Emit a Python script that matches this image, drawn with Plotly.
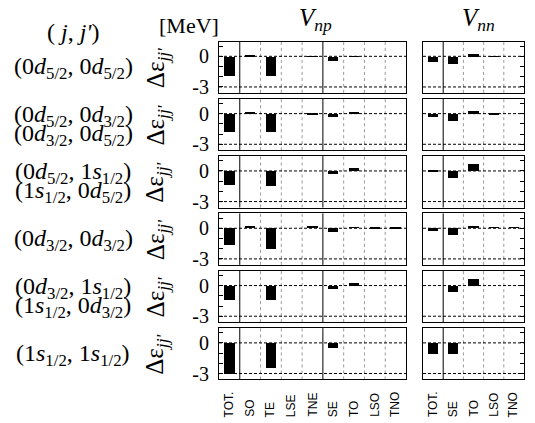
import plotly.graph_objects as go

W, H = 535, 423

cats_np = ["TOT.", "SO", "TE", "LSE", "TNE", "SE", "TO", "LSO", "TNO"]
cats_nn = ["TOT.", "SE", "TO", "LSO", "TNO"]

row_labels = [
    ["(0<i>d</i><sub>5/2</sub>, 0<i>d</i><sub>5/2</sub>)"],
    ["(0<i>d</i><sub>5/2</sub>, 0<i>d</i><sub>3/2</sub>)", "(0<i>d</i><sub>3/2</sub>, 0<i>d</i><sub>5/2</sub>)"],
    ["(0<i>d</i><sub>5/2</sub>, 1<i>s</i><sub>1/2</sub>)", "(1<i>s</i><sub>1/2</sub>, 0<i>d</i><sub>5/2</sub>)"],
    ["(0<i>d</i><sub>3/2</sub>, 0<i>d</i><sub>3/2</sub>)"],
    ["(0<i>d</i><sub>3/2</sub>, 1<i>s</i><sub>1/2</sub>)", "(1<i>s</i><sub>1/2</sub>, 0<i>d</i><sub>3/2</sub>)"],
    ["(1<i>s</i><sub>1/2</sub>, 1<i>s</i><sub>1/2</sub>)"],
]

vnp_1 = [-1.9, 0.1, -1.9, 0.0, 0.03, -0.4, 0.08, 0.0, 0.0]
vnp_2 = [-1.8, 0.1, -1.75, 0.0, -0.05, -0.35, 0.1, 0.0, 0.0]
vnp_3 = [-1.37, 0.0, -1.47, 0.0, 0.0, -0.33, 0.3, 0.0, 0.0]
vnp_4 = [-1.7, 0.1, -2.1, 0.0, 0.12, -0.42, 0.06, -0.03, -0.03]
vnp_5 = [-1.37, 0.0, -1.43, 0.0, 0.0, -0.33, 0.3, 0.0, 0.0]
vnp_6 = [-3.03, 0.0, -2.45, 0.0, 0.0, -0.52, 0.0, 0.0, 0.0]

vnn_1 = [-0.55, -0.75, 0.25, 0.03, 0.0]
vnn_2 = [-0.3, -0.75, 0.3, -0.03, 0.0]
vnn_3 = [-0.05, -0.68, 0.62, 0.0, 0.0]
vnn_4 = [-0.35, -0.7, 0.2, 0.04, 0.04]
vnn_5 = [0.0, -0.62, 0.65, 0.0, 0.0]
vnn_6 = [-1.07, -1.07, 0.0, 0.0, 0.0]

vnp_rows = [vnp_1, vnp_2, vnp_3, vnp_4, vnp_5, vnp_6]
vnn_rows = [vnn_1, vnn_2, vnn_3, vnn_4, vnn_5, vnn_6]

y_ticks = [1, 0, -1, -2, -3]
y_ticktext = ["", "0", "", "", "-3"]
y_range = [-3.58, 1.45]

SERIF = "Liberation Serif, Times New Roman, serif"
SANS = "Liberation Sans, Arial, sans-serif"

def px_x(p):
    return p / W

def px_y(p):
    return 1 - p / H

# panel geometry (pixels)
np_x0, np_x1 = 219, 406
nn_x0, nn_x1 = 423, 524
top0, step, ph = 42, 58, 52

fig = go.Figure()
shapes = []
annotations = []

axis_idx = 0
for r in range(6):
    top = top0 + step * r
    bot = top + ph
    for kind, cats, vals, (x0, x1) in (
        ("np", cats_np, vnp_rows[r], (np_x0, np_x1)),
        ("nn", cats_nn, vnn_rows[r], (nn_x0, nn_x1)),
    ):
        axis_idx += 1
        xa = "x" if axis_idx == 1 else f"x{axis_idx}"
        ya = "y" if axis_idx == 1 else f"y{axis_idx}"
        xkey = "xaxis" if axis_idx == 1 else f"xaxis{axis_idx}"
        ykey = "yaxis" if axis_idx == 1 else f"yaxis{axis_idx}"
        n = len(cats)
        fig.add_trace(go.Bar(
            x=list(range(n)), y=vals, width=0.5,
            marker=dict(color="black", line=dict(width=0)),
            xaxis=xa, yaxis=ya, showlegend=False, hoverinfo="skip",
        ))
        fig.layout[xkey] = dict(
            domain=[px_x(x0), px_x(x1)], anchor=ya, range=[-0.5, n - 0.5],
            showticklabels=False, ticks="", showgrid=False, zeroline=False,
            showline=True, linecolor="black", linewidth=1, mirror=True,
        )
        yax = dict(
            domain=[px_y(bot), px_y(top)], anchor=xa, range=y_range,
            tickvals=y_ticks, ticktext=y_ticktext, ticks="inside", ticklen=4,
            tickcolor="black", showgrid=False, zeroline=False,
            showline=True, linecolor="black", linewidth=1, mirror=True,
            tickfont=dict(family=SERIF, size=20, color="black"),
        )
        if kind == "np":
            yax.update(showticklabels=True, ticklabelstandoff=5)
        else:
            yax.update(showticklabels=False, side="right")
        fig.layout[ykey] = yax

        # separators between categories
        for b in range(n - 1):
            xb = b + 0.5
            solid = (b == 0) or (kind == "np" and b == 4)
            shapes.append(dict(
                type="line", xref=xa, yref=ya + " domain", x0=xb, x1=xb, y0=0, y1=1,
                line=dict(color="black" if solid else "#999999", width=1,
                          dash="solid" if solid else "dot"),
                layer="below",
            ))
        for yv in (0, -3):
            shapes.append(dict(
                type="line", xref=xa + " domain", yref=ya, x0=0, x1=1, y0=yv, y1=yv,
                line=dict(color="black", width=1, dash="3px,2px"), layer="below",
            ))
        if r == 5:
            for i, c in enumerate(cats):
                annotations.append(dict(
                    x=i, xref=xa, y=px_y(424), yref="paper", text=c,
                    textangle=-90, xanchor="center", yanchor="bottom",
                    showarrow=False, font=dict(family=SANS, size=12, color="black"),
                ))

    # row labels
    cy = top + ph / 2
    labs = row_labels[r]
    offs = [0] if len(labs) == 1 else [-9.5, 9.5]
    for lab, o in zip(labs, offs):
        annotations.append(dict(
            x=px_x(73), y=px_y(cy + o + 1), xref="paper", yref="paper",
            text=lab, showarrow=False, xanchor="center", yanchor="middle",
            font=dict(family=SERIF, size=24, color="black"),
        ))
    annotations.append(dict(
        x=px_x(157), y=px_y(cy + 1), xref="paper", yref="paper",
        text="Δε<sub><i>jj'</i></sub>", textangle=-90, showarrow=False,
        xanchor="center", yanchor="middle",
        font=dict(family=SERIF, size=25, color="black"),
    ))

# headers
annotations += [
    dict(x=px_x(73), y=px_y(32), xref="paper", yref="paper",
         text="( <i>j</i>, <i>j'</i>)", showarrow=False,
         xanchor="center", yanchor="middle",
         font=dict(family=SERIF, size=24, color="black")),
    dict(x=px_x(189), y=px_y(26), xref="paper", yref="paper",
         text="[MeV]", showarrow=False, xanchor="center", yanchor="middle",
         font=dict(family=SERIF, size=22, color="black")),
    dict(x=px_x(315), y=px_y(20), xref="paper", yref="paper",
         text="<i>V</i><sub><i>np</i></sub>", showarrow=False,
         xanchor="center", yanchor="middle",
         font=dict(family=SERIF, size=25, color="black")),
    dict(x=px_x(478), y=px_y(20), xref="paper", yref="paper",
         text="<i>V</i><sub><i>nn</i></sub>", showarrow=False,
         xanchor="center", yanchor="middle",
         font=dict(family=SERIF, size=25, color="black")),
]

fig.update_layout(
    width=W, height=H, autosize=False,
    margin=dict(l=0, r=0, t=0, b=0),
    paper_bgcolor="white", plot_bgcolor="white",
    shapes=shapes, annotations=annotations, bargap=0,
)

fig.write_html("out.html", config={"displayModeBar": False},
               post_script="document.body.style.margin='0px';")
